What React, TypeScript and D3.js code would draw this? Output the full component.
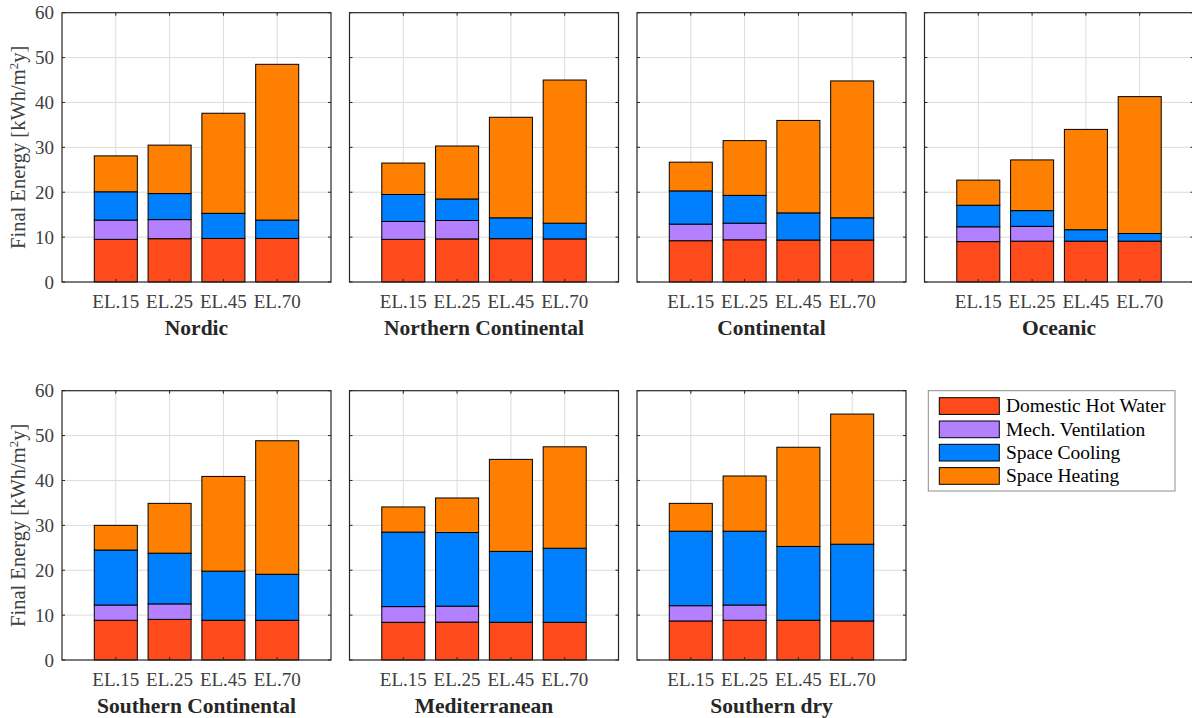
import React from "react";
import * as d3 from "d3";

const categories = ["EL.15", "EL.25", "EL.45", "EL.70"];
const regions = [
  "Nordic",
  "Northern Continental",
  "Continental",
  "Oceanic",
  "Southern Continental",
  "Mediterranean",
  "Southern dry",
];
const seriesNames = ["Domestic Hot Water", "Mech. Ventilation", "Space Cooling", "Space Heating"];
const seriesColors = ["#FF4B1C", "#B380FF", "#0080FF", "#FF8000"];

// per region, per category
const domesticHotWater = [
  [9.5, 9.65, 9.7, 9.7],
  [9.5, 9.6, 9.65, 9.6],
  [9.2, 9.4, 9.35, 9.35],
  [9.0, 9.1, 9.1, 9.1],
  [8.85, 9.05, 8.85, 8.85],
  [8.4, 8.45, 8.4, 8.4],
  [8.7, 8.85, 8.85, 8.7],
];
const mechVentilation = [
  [4.3, 4.25, 0, 0],
  [4.0, 4.1, 0, 0],
  [3.7, 3.7, 0, 0],
  [3.3, 3.3, 0, 0],
  [3.4, 3.45, 0, 0],
  [3.5, 3.55, 0, 0],
  [3.4, 3.4, 0, 0],
];
const spaceCooling = [
  [6.3, 5.8, 5.6, 4.1],
  [6.0, 4.8, 4.65, 3.5],
  [7.4, 6.2, 6.05, 4.95],
  [4.8, 3.5, 2.55, 1.7],
  [12.25, 11.3, 10.95, 10.25],
  [16.6, 16.4, 15.8, 16.5],
  [16.6, 16.45, 16.45, 17.1],
];
const spaceHeating = [
  [8.0, 10.8, 22.3, 34.7],
  [7.0, 11.8, 22.4, 31.9],
  [6.4, 12.2, 20.6, 30.5],
  [5.6, 11.3, 22.35, 30.5],
  [5.5, 11.1, 21.1, 29.75],
  [5.6, 7.7, 20.5, 22.6],
  [6.2, 12.3, 22.1, 29.0],
];
const yTicks = [0, 10, 20, 30, 40, 50, 60];

const W = 1192;
const H = 718;
const colLeft = [62, 349.5, 637, 924.5];
const rowTop = [12.7, 390.7];
const PW = 269;
const PH = 269.3;
const AX = "#262626";
const TICKC = "#404040";
const FONT = "'Liberation Serif', 'Times New Roman', serif";

function Panel({ idx }: { idx: number }) {
  const col = idx % 4;
  const row = Math.floor(idx / 4);
  const left = colLeft[col];
  const top = rowTop[row];
  const x = d3.scaleLinear().domain([0, 5]).range([left, left + PW]);
  const y = d3.scaleLinear().domain([0, 60]).range([top + PH, top]);
  const rows = categories.map((c, i) => ({
    cat: i + 1,
    s0: domesticHotWater[idx][i],
    s1: mechVentilation[idx][i],
    s2: spaceCooling[idx][i],
    s3: spaceHeating[idx][i],
  }));
  const stack = d3.stack<any>().keys(["s0", "s1", "s2", "s3"])(rows);
  const bw = x(0.8) - x(0);
  const tl = 3;
  return (
    <g>
      <rect x={left} y={top} width={PW} height={PH} fill="#fff" />
      {yTicks.slice(1, -1).map((t) => (
        <line key={"gy" + t} x1={left} x2={left + PW} y1={y(t)} y2={y(t)} stroke="#dcdcdc" strokeWidth={1} />
      ))}
      {categories.map((c, i) => (
        <line key={"gx" + i} x1={x(i + 1)} x2={x(i + 1)} y1={top} y2={top + PH} stroke="#dcdcdc" strokeWidth={1} />
      ))}
      {stack.map((layer, si) =>
        layer.map((d, ci) => (
          <rect
            key={"b" + si + "-" + ci}
            x={x(d.data.cat) - bw / 2}
            y={y(d[1])}
            width={bw}
            height={Math.max(0, y(d[0]) - y(d[1]))}
            fill={seriesColors[si]}
            stroke="#000"
            strokeWidth={1}
          />
        ))
      )}
      <rect x={left} y={top} width={PW} height={PH} fill="none" stroke={AX} strokeWidth={1.2} />
      {yTicks.map((t) => (
        <g key={"ty" + t}>
          <line x1={left} x2={left + tl} y1={y(t)} y2={y(t)} stroke={AX} />
          <line x1={left + PW - tl} x2={left + PW} y1={y(t)} y2={y(t)} stroke={AX} />
          {col === 0 && (
            <text x={left - 8} y={y(t) + 6.5} textAnchor="end" fontSize={19} fill={TICKC} fontFamily={FONT}>
              {t}
            </text>
          )}
        </g>
      ))}
      {categories.map((c, i) => (
        <g key={"tx" + i}>
          <line x1={x(i + 1)} x2={x(i + 1)} y1={top + PH} y2={top + PH - tl} stroke={AX} />
          <line x1={x(i + 1)} x2={x(i + 1)} y1={top} y2={top + tl} stroke={AX} />
          <text x={x(i + 1)} y={top + PH + 26} textAnchor="middle" fontSize={19} fill={TICKC} fontFamily={FONT}>
            {c}
          </text>
        </g>
      ))}
      <text
        x={left + PW / 2}
        y={top + PH + 53}
        textAnchor="middle"
        fontSize={21.5}
        fontWeight="bold"
        fill={AX}
        fontFamily={FONT}
      >
        {regions[idx]}
      </text>
      {col === 0 && (
        <text
          transform={`translate(25,${top + PH / 2}) rotate(-90)`}
          textAnchor="middle"
          fontSize={20.5}
          fill={TICKC}
          fontFamily={FONT}
        >
          Final Energy [kWh/m
          <tspan fontSize={13} dy={-7}>
            2
          </tspan>
          <tspan dy={7}>y]</tspan>
        </text>
      )}
    </g>
  );
}

function Legend() {
  const lx = 928.3;
  const ly = 390.7;
  return (
    <g>
      <rect x={lx} y={ly} width={246.7} height={100.3} fill="#fff" stroke="#8c8c8c" strokeWidth={1} />
      {seriesNames.map((s, i) => (
        <g key={s}>
          <rect x={939.3} y={397.7 + i * 23.3} width={60} height={16.7} fill={seriesColors[i]} stroke="#000" strokeWidth={1} />
          <text x={1006} y={397.7 + i * 23.3 + 14.5} fontSize={19.5} fill="#000" fontFamily={FONT}>
            {s}
          </text>
        </g>
      ))}
    </g>
  );
}

export default function App() {
  return (
    <svg width={W} height={H} style={{ position: "absolute", left: 0, top: 0, background: "#fff" }}>
      <rect width={W} height={H} fill="#fff" />
      {regions.map((r, i) => (
        <Panel key={r} idx={i} />
      ))}
      <Legend />
    </svg>
  );
}
